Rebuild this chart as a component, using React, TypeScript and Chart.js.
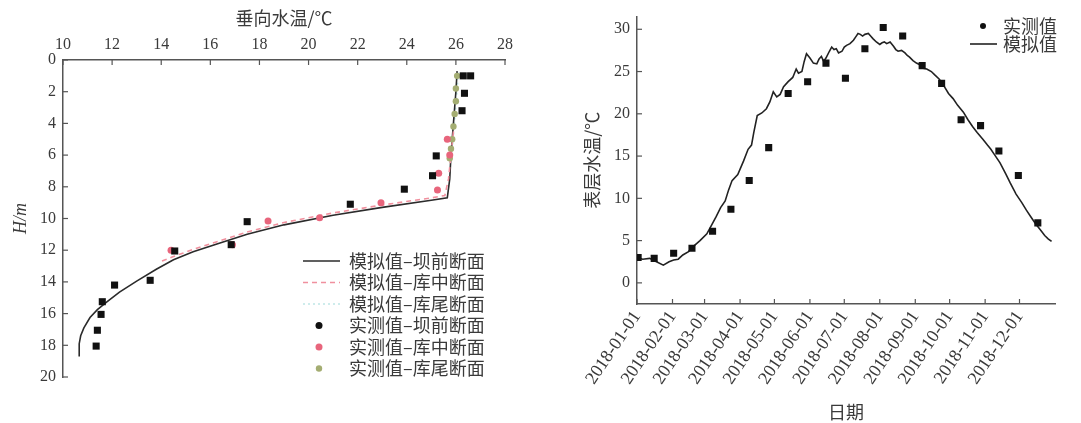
import React, { useEffect, useRef } from 'react';
import { Chart, registerables } from 'chart.js';

Chart.register(...registerables);

// ---------------- Left chart: vertical temperature profile ----------------
const profileTicksX = [10, 12, 14, 16, 18, 20, 22, 24, 26, 28];
const profileTicksY = [0, 2, 4, 6, 8, 10, 12, 14, 16, 18, 20];

const simFrontT = [26.05, 26.0, 25.95, 25.9, 25.85, 25.8, 25.75, 25.65, 25.0, 23.0, 21.0, 19.0, 17.5, 16.3, 15.3, 14.5, 13.8, 13.0, 12.3, 11.8, 11.4, 11.1, 10.85, 10.72, 10.66, 10.66];
const simFrontH = [0.7, 2.0, 3.0, 4.0, 5.0, 6.0, 7.5, 8.7, 8.85, 9.3, 9.8, 10.4, 11.0, 11.6, 12.1, 12.6, 13.2, 13.95, 14.65, 15.25, 15.75, 16.25, 16.9, 17.4, 17.9, 18.7];

const simMidT = [25.9, 25.8, 25.7, 25.55, 25.0, 23.0, 21.0, 19.0, 17.5, 16.3, 15.3, 14.5, 14.0];
const simMidH = [4.5, 6.0, 7.5, 8.55, 8.7, 9.15, 9.65, 10.25, 10.85, 11.45, 11.95, 12.4, 12.7];

const simTailT = [26.1, 26.05, 26.0, 25.95, 25.9, 25.85, 25.8];
const simTailH = [0.8, 1.8, 2.8, 3.8, 4.8, 5.6, 6.3];

const obsFrontT = [26.3, 26.6, 26.35, 26.25, 25.2, 25.05, 23.9, 21.7, 17.5, 16.85, 14.55, 13.55, 12.1, 11.6, 11.55, 11.4, 11.35];
const obsFrontH = [1.0, 1.0, 2.1, 3.2, 6.05, 7.3, 8.15, 9.1, 10.2, 11.65, 12.05, 13.9, 14.2, 15.25, 16.05, 17.05, 18.05];

const obsMidT = [25.65, 25.75, 25.3, 25.25, 22.95, 20.45, 18.35, 16.9, 14.4];
const obsMidH = [5.0, 6.0, 7.15, 8.2, 9.0, 9.95, 10.15, 11.65, 12.0];

const obsTailT = [26.05, 26.0, 26.0, 25.95, 25.9, 25.85, 25.8, 25.75];
const obsTailH = [1.0, 1.8, 2.6, 3.4, 4.2, 5.0, 5.6, 6.2];

const leftLegendLabels = [
  '模拟值–坝前断面',
  '模拟值–库中断面',
  '模拟值–库尾断面',
  '实测值–坝前断面',
  '实测值–库中断面',
  '实测值–库尾断面',
];

// ---------------- Right chart: surface water temperature ----------------
const monthTickDays = [0, 31, 59, 90, 120, 151, 181, 212, 243, 273, 304, 334];
const monthTickLabels = [
  '2018-01-01', '2018-02-01', '2018-03-01', '2018-04-01', '2018-05-01', '2018-06-01',
  '2018-07-01', '2018-08-01', '2018-09-01', '2018-10-01', '2018-11-01', '2018-12-01',
];
const surfaceTicksY = [0, 5, 10, 15, 20, 25, 30];

const obsDays = [1, 15, 32, 48, 66, 82, 98, 115, 132, 149, 165, 182, 199, 215, 232, 249, 266, 283, 300, 316, 333, 350];
const obsTemp = [3.0, 2.9, 3.5, 4.1, 6.1, 8.7, 12.1, 16.0, 22.4, 23.8, 26.0, 24.2, 27.7, 30.2, 29.2, 25.7, 23.6, 19.3, 18.6, 15.6, 12.7, 7.1];

const simDays = [0, 5, 11, 17, 23, 28, 32, 36, 40, 45, 49, 55, 61, 65, 69, 73, 77, 80, 83, 88, 93, 97, 100, 102, 105, 109, 113, 116, 119, 122, 125, 128, 132, 136, 139, 141, 144, 146, 148, 151, 154, 157, 159, 161, 163, 165, 168, 170, 172, 174, 176, 179, 181, 183, 186, 189, 191, 193, 195, 197, 199, 202, 204, 206, 209, 212, 214, 216, 218, 221, 224, 226, 228, 231, 234, 236, 238, 241, 244, 247, 250, 253, 257, 260, 264, 268, 272, 276, 280, 285, 289, 293, 297, 302, 306, 309, 312, 317, 322, 326, 331, 336, 340, 344, 348, 352, 356, 359, 362];
const simTemp = [3.0, 2.8, 2.9, 2.5, 2.1, 2.5, 2.7, 2.8, 3.3, 3.7, 4.3, 5.0, 5.8, 6.8, 7.8, 8.9, 9.7, 11.0, 12.1, 12.8, 14.4, 15.8, 16.3, 17.8, 19.8, 20.1, 20.6, 21.4, 22.6, 22.0, 22.3, 23.2, 23.8, 24.3, 25.3, 24.8, 25.0, 26.2, 27.1, 26.6, 26.0, 25.9, 26.5, 26.8, 26.2, 26.6, 27.4, 27.9, 27.6, 27.7, 27.2, 27.4, 27.9, 28.1, 28.3, 28.7, 29.1, 29.5, 29.4, 29.2, 29.4, 29.5, 29.2, 28.9, 28.5, 28.2, 28.4, 28.5, 28.3, 28.5, 28.0, 27.6, 27.4, 27.5, 27.2, 26.9, 26.7, 26.3, 26.0, 25.8, 25.4, 25.3, 25.0, 24.6, 24.1, 23.3, 22.4, 21.8, 21.0, 20.2, 19.3, 18.5, 17.8, 17.0, 16.3, 15.8, 15.2, 14.2, 12.9, 11.8, 10.5, 9.5, 8.6, 7.8, 7.0, 6.3, 5.6, 5.2, 4.9];

const rightLegendLabels = ['实测值', '模拟值'];

// ---------------- helpers ----------------
const zip = (xs: number[], ys: number[]) => xs.map((x, i) => ({ x, y: ys[i] }));

const SERIF = "'Liberation Serif', 'DejaVu Serif', serif";
const CJK = "'Noto Sans CJK SC', 'Noto Sans', sans-serif";
const TEXT = '#3a3a3a';
const AXIS = '#555555';

const innerTicks = {
  id: 'innerTicks',
  afterDraw(chart: any, _args: any, opts: any) {
    const ctx = chart.ctx;
    const { left, top, bottom } = chart.chartArea;
    const len = opts.length ?? 5;
    ctx.save();
    ctx.strokeStyle = AXIS;
    ctx.lineWidth = 1.2;
    ['x', 'y'].forEach((id) => {
      const s = chart.scales[id];
      s.ticks.forEach((t: any) => {
        const p = s.getPixelForValue(t.value);
        ctx.beginPath();
        if (s.isHorizontal()) {
          const y0 = s.position === 'top' ? top : bottom;
          const dir = s.position === 'top' ? 1 : -1;
          ctx.moveTo(p, y0);
          ctx.lineTo(p, y0 + dir * len);
        } else {
          ctx.moveTo(left, p);
          ctx.lineTo(left + len, p);
        }
        ctx.stroke();
      });
    });
    ctx.restore();
  },
};

function drawMarker(ctx: CanvasRenderingContext2D, ds: any, x: number, y: number) {
  ctx.save();
  ctx.fillStyle = ds.backgroundColor;
  ctx.beginPath();
  const r = ds.legendRadius ?? ds.pointRadius;
  const style = ds.legendPointStyle ?? ds.pointStyle;
  if (style === 'rect') {
    const s = r * Math.SQRT1_2;
    ctx.rect(x - s, y - s, 2 * s, 2 * s);
  } else {
    ctx.arc(x, y, r, 0, Math.PI * 2);
  }
  ctx.fill();
  ctx.restore();
}

function drawLineSample(ctx: CanvasRenderingContext2D, ds: any, x0: number, x1: number, y: number) {
  ctx.save();
  ctx.strokeStyle = ds.borderColor;
  ctx.lineWidth = ds.borderWidth;
  ctx.setLineDash(ds.borderDash || []);
  ctx.beginPath();
  ctx.moveTo(x0, y);
  ctx.lineTo(x1, y);
  ctx.stroke();
  ctx.restore();
}

const leftLegend = {
  id: 'leftLegend',
  afterDraw(chart: any) {
    const ctx = chart.ctx;
    const datasets = chart.data.datasets;
    ctx.save();
    ctx.font = `18px ${CJK}`;
    ctx.textBaseline = 'middle';
    ctx.fillStyle = TEXT;
    datasets.forEach((ds: any, i: number) => {
      const y = 261 + i * 21.5;
      if (ds.showLine) drawLineSample(ctx, ds, 303, 340, y);
      else drawMarker(ctx, ds, 319, y);
      ctx.fillStyle = TEXT;
      ctx.fillText(ds.label, 349, y);
    });
    ctx.restore();
  },
};

const rightLegend = {
  id: 'rightLegend',
  afterDraw(chart: any) {
    const ctx = chart.ctx;
    const datasets = chart.data.datasets;
    ctx.save();
    ctx.font = `18px ${CJK}`;
    ctx.textBaseline = 'middle';
    datasets.forEach((ds: any, i: number) => {
      const y = 26 + i * 18;
      if (ds.showLine) drawLineSample(ctx, ds, 430, 457, y);
      else drawMarker(ctx, ds, 443, y);
      ctx.fillStyle = TEXT;
      ctx.fillText(ds.label, 463, y);
    });
    ctx.restore();
  },
};

function leftConfig(): any {
  return {
    type: 'scatter',
    data: {
      datasets: [
        { label: leftLegendLabels[0], data: zip(simFrontT, simFrontH), showLine: true, borderColor: '#2b2b2b', borderWidth: 1.6, pointRadius: 0, order: 3 },
        { label: leftLegendLabels[1], data: zip(simMidT, simMidH), showLine: true, borderColor: '#f0909e', borderWidth: 1.6, borderDash: [5, 4], pointRadius: 0, order: 2 },
        { label: leftLegendLabels[2], data: zip(simTailT, simTailH), showLine: true, borderColor: '#bfe6e6', borderWidth: 1.6, borderDash: [2, 3], pointRadius: 0, order: 4 },
        { label: leftLegendLabels[3], data: zip(obsFrontT, obsFrontH), showLine: false, pointStyle: 'rect', pointRadius: 5, legendPointStyle: 'circle', legendRadius: 3.5, backgroundColor: '#111111', borderWidth: 0, order: 0 },
        { label: leftLegendLabels[4], data: zip(obsMidT, obsMidH), showLine: false, pointStyle: 'circle', pointRadius: 3.5, backgroundColor: '#e8657c', borderWidth: 0, order: 1 },
        { label: leftLegendLabels[5], data: zip(obsTailT, obsTailH), showLine: false, pointStyle: 'circle', pointRadius: 3.2, backgroundColor: '#a4ad72', borderWidth: 0, order: 1 },
      ],
    },
    options: {
      animation: false,
      responsive: false,
      events: [],
      layout: { padding: { left: 0, top: 0, right: 35, bottom: 46 } },
      plugins: { legend: { display: false }, tooltip: { enabled: false }, innerTicks: { length: 5 } },
      scales: {
        x: {
          type: 'linear',
          position: 'top',
          min: 10,
          max: 28,
          afterBuildTicks: (s: any) => { s.ticks = profileTicksX.map((v) => ({ value: v })); },
          afterFit: (s: any) => { s.height = 60; },
          grid: { display: false, drawTicks: false },
          border: { display: true, color: AXIS, width: 1.5 },
          ticks: { color: TEXT, font: { family: SERIF, size: 16 }, padding: 6, maxRotation: 0, autoSkip: false },
          title: { display: true, text: '垂向水温/℃', color: TEXT, font: { family: CJK, size: 18 }, padding: { top: 7, bottom: 0 } },
        },
        y: {
          type: 'linear',
          reverse: true,
          min: 0,
          max: 20,
          afterBuildTicks: (s: any) => { s.ticks = profileTicksY.map((v) => ({ value: v })); },
          afterFit: (s: any) => { s.width = 63; },
          grid: { display: false, drawTicks: false },
          border: { display: true, color: AXIS, width: 1.5 },
          ticks: { color: TEXT, font: { family: SERIF, size: 16 }, padding: 7, autoSkip: false },
          title: { display: true, text: 'H/m', color: TEXT, font: { family: SERIF, size: 18, style: 'italic' }, padding: { top: 10, bottom: 0 } },
        },
      },
    },
    plugins: [innerTicks, leftLegend],
  };
}

function rightConfig(): any {
  return {
    type: 'scatter',
    data: {
      datasets: [
        { label: rightLegendLabels[0], data: zip(obsDays, obsTemp), showLine: false, pointStyle: 'rect', pointRadius: 5, legendPointStyle: 'circle', legendRadius: 3, backgroundColor: '#111111', borderWidth: 0, order: 0 },
        { label: rightLegendLabels[1], data: zip(simDays, simTemp), showLine: true, borderColor: '#222222', borderWidth: 1.6, pointRadius: 0, order: 1 },
      ],
    },
    options: {
      animation: false,
      responsive: false,
      events: [],
      layout: { padding: { left: 0, top: 14, right: 26, bottom: 0 } },
      plugins: { legend: { display: false }, tooltip: { enabled: false }, innerTicks: { length: 5 } },
      scales: {
        x: {
          type: 'linear',
          position: 'bottom',
          min: 0,
          max: 365,
          afterBuildTicks: (s: any) => { s.ticks = monthTickDays.map((v) => ({ value: v })); },
          afterFit: (s: any) => { s.height = 119; },
          grid: { display: false, drawTicks: false },
          border: { display: true, color: AXIS, width: 1.5 },
          ticks: {
            color: TEXT,
            font: { family: SERIF, size: 18 },
            padding: 3,
            minRotation: 56,
            maxRotation: 56,
            autoSkip: false,
            callback: (v: number) => monthTickLabels[monthTickDays.indexOf(v)] ?? '',
          },
          title: { display: true, text: '日期', color: TEXT, font: { family: CJK, size: 18 }, padding: { top: 3, bottom: 0 } },
        },
        y: {
          type: 'linear',
          min: -2.5,
          max: 31.5,
          afterBuildTicks: (s: any) => { s.ticks = surfaceTicksY.map((v) => ({ value: v })); },
          afterFit: (s: any) => { s.width = 97; },
          grid: { display: false, drawTicks: false },
          border: { display: true, color: AXIS, width: 1.5 },
          ticks: { color: TEXT, font: { family: SERIF, size: 16 }, padding: 7, autoSkip: false },
          title: { display: true, text: '表层水温/℃', color: TEXT, font: { family: CJK, size: 18 }, padding: { top: 41, bottom: 0 } },
        },
      },
    },
    plugins: [innerTicks, rightLegend],
  };
}

export default function App() {
  const leftRef = useRef<HTMLCanvasElement | null>(null);
  const rightRef = useRef<HTMLCanvasElement | null>(null);

  useEffect(() => {
    const c1 = new Chart(leftRef.current as HTMLCanvasElement, leftConfig());
    const c2 = new Chart(rightRef.current as HTMLCanvasElement, rightConfig());
    return () => {
      c1.destroy();
      c2.destroy();
    };
  }, []);

  return (
    <div style={{ position: 'fixed', left: 0, top: 0, width: 1081, height: 423, background: '#ffffff', overflow: 'hidden' }}>
      <canvas ref={leftRef} width={540} height={423} style={{ position: 'absolute', left: 0, top: 0, width: 540, height: 423 }} />
      <canvas ref={rightRef} width={541} height={423} style={{ position: 'absolute', left: 540, top: 0, width: 541, height: 423 }} />
    </div>
  );
}
